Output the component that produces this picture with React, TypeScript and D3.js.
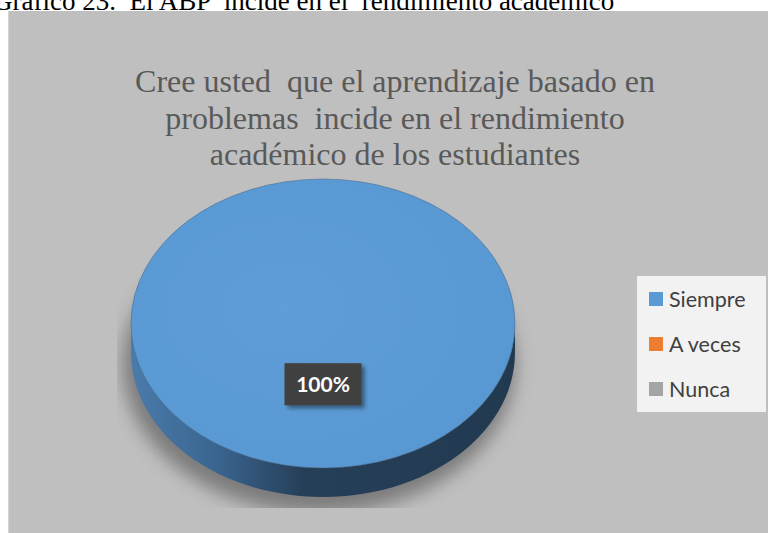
import React, { useEffect, useRef } from 'react';
import * as d3 from 'd3';

// data
const categories = ['Siempre', 'A veces', 'Nunca'];
const values = [100, 0, 0];
const colors = ['#5b9bd5', '#ed7d31', '#a5a5a5'];
const titleLines = [
  'Cree usted  que el aprendizaje basado en',
  'problemas  incide en el rendimiento',
  'académico de los estudiantes',
];
const caption = 'Gráfico 23.  El ABP  incide en el  rendimiento académico';

const W = 769;
const H = 533;
const SERIF = '"Liberation Serif", "Times New Roman", Times, serif';
const SANS = 'Lato, "Open Sans", sans-serif';

const App = () => {
  const svgRef = useRef<SVGSVGElement>(null);

  useEffect(() => {
    const svg = d3.select(svgRef.current);
    svg.selectAll('*').remove();

    const defs = svg.append('defs');

    // side gradient (dark edge of the 3d pie)
    const side = defs.append('linearGradient')
      .attr('id', 'side-grad')
      .attr('gradientUnits', 'userSpaceOnUse')
      .attr('x1', 131).attr('x2', 515).attr('y1', 0).attr('y2', 0);
    side.append('stop').attr('offset', '0%').attr('stop-color', '#4a7bab');
    side.append('stop').attr('offset', '22%').attr('stop-color', '#3a6590');
    side.append('stop').attr('offset', '45%').attr('stop-color', '#263f59');
    side.append('stop').attr('offset', '100%').attr('stop-color', '#223a50');

    const top = defs.append('radialGradient')
      .attr('id', 'top-grad')
      .attr('cx', '40%').attr('cy', '45%').attr('r', '70%');
    top.append('stop').attr('offset', '0%').attr('stop-color', '#5e9dd7');
    top.append('stop').attr('offset', '100%').attr('stop-color', '#5898d2');

    const blur = defs.append('filter').attr('id', 'shadow-blur')
      .attr('x', '-20%').attr('y', '-20%').attr('width', '140%').attr('height', '140%');
    blur.append('feGaussianBlur').attr('stdDeviation', 9);

    const lblShadow = defs.append('filter').attr('id', 'lbl-shadow')
      .attr('x', '-20%').attr('y', '-30%').attr('width', '150%').attr('height', '170%');
    lblShadow.append('feDropShadow')
      .attr('dx', 3).attr('dy', 3).attr('stdDeviation', 2)
      .attr('flood-color', '#000').attr('flood-opacity', 0.45);

    defs.append('clipPath').attr('id', 'shadow-clip')
      .append('rect').attr('x', 117).attr('y', 200).attr('width', 420).attr('height', 308);

    // caption above chart (cut at top)
    svg.append('text')
      .attr('x', -7).attr('y', 10)
      .style('font-family', SERIF)
      .style('white-space', 'pre')
      .attr('font-size', 27)
      .attr('fill', '#000')
      .text(caption);

    // chart area
    svg.append('rect')
      .attr('x', 8).attr('y', 11).attr('width', 760).attr('height', H - 11)
      .attr('fill', '#bfbfbf');
    svg.append('line')
      .attr('x1', 8.5).attr('x2', 8.5).attr('y1', 11).attr('y2', H)
      .attr('stroke', '#d4d4d4').attr('stroke-width', 1);

    // title
    svg.append('g')
      .selectAll('text')
      .data(titleLines)
      .join('text')
      .attr('x', 395)
      .attr('y', (d, i) => 92 + i * 36.5)
      .attr('text-anchor', 'middle')
      .style('font-family', SERIF)
      .style('white-space', 'pre')
      .attr('font-size', 32)
      .attr('fill', '#595959')
      .text(d => d);

    // pie geometry
    const cx = 323;
    const cy = 323.5;
    const rx = 192;
    const ry = 144.5;
    const depth = 29;
    const k = ry / rx;

    const pie = d3.pie<number>().sort(null).value(d => d);
    const arcs = pie(values);
    const arc = d3.arc<d3.PieArcDatum<number>>().innerRadius(0).outerRadius(rx);
    const labelArc = d3.arc<d3.PieArcDatum<number>>().innerRadius(rx * 0.42).outerRadius(rx * 0.42);

    // shadow
    svg.append('g')
      .attr('clip-path', 'url(#shadow-clip)')
      .append('ellipse')
      .attr('cx', cx - 4).attr('cy', cy + depth + 12)
      .attr('rx', rx + 4).attr('ry', ry + 4)
      .attr('fill', '#6a6a6a')
      .attr('opacity', 0.8)
      .attr('filter', 'url(#shadow-blur)');

    // sides: visible front half of each slice
    const pt = (a: number, dy: number) => [cx + rx * Math.sin(a), cy - ry * Math.cos(a) + dy];
    const sidePath = (a0: number, a1: number) => {
      const s = Math.max(a0, Math.PI / 2);
      const e = Math.min(a1, Math.PI * 1.5);
      if (e <= s) return null;
      const n = 60;
      const p = d3.path();
      for (let i = 0; i <= n; i++) {
        const [x, y] = pt(s + (e - s) * i / n, 0);
        if (i === 0) p.moveTo(x, y); else p.lineTo(x, y);
      }
      for (let i = n; i >= 0; i--) {
        const [x, y] = pt(s + (e - s) * i / n, depth);
        p.lineTo(x, y);
      }
      p.closePath();
      return p.toString();
    };

    const sideG = svg.append('g');
    arcs.forEach((a, i) => {
      if (a.value <= 0) return;
      const d = sidePath(a.startAngle, a.endAngle);
      if (!d) return;
      sideG.append('path')
        .attr('d', d)
        .attr('fill', i === 0 ? 'url(#side-grad)' : d3.color(colors[i])!.darker(1.2).toString());
    });

    // top faces
    svg.append('g')
      .attr('transform', `translate(${cx},${cy}) scale(1,${k})`)
      .selectAll('path')
      .data(arcs.filter(a => a.value > 0))
      .join('path')
      .attr('d', arc)
      .attr('fill', d => (d.index === 0 ? 'url(#top-grad)' : colors[d.index]))
      .attr('stroke', '#3f5f7f')
      .attr('stroke-opacity', 0.6)
      .attr('stroke-width', 0.8)
      .attr('vector-effect', 'non-scaling-stroke');

    // data labels
    const total = d3.sum(values);
    const lblG = svg.append('g');
    arcs.filter(a => a.value > 0).forEach(a => {
      const [lx, ly] = labelArc.centroid(a);
      const x = cx + lx;
      const y = cy + ly * k;
      const g = lblG.append('g').attr('transform', `translate(${x},${y})`);
      g.append('rect')
        .attr('x', -38.5).attr('y', -21).attr('width', 77).attr('height', 42)
        .attr('fill', '#404040')
        .attr('filter', 'url(#lbl-shadow)');
      g.append('text')
        .attr('text-anchor', 'middle')
        .attr('dy', '0.36em')
        .style('font-family', SANS)
        .attr('font-weight', 'bold')
        .attr('font-size', 21)
        .attr('fill', '#fff')
        .text(`${Math.round(a.value / total * 100)}%`);
    });

    // legend
    const legend = svg.append('g');
    legend.append('rect')
      .attr('x', 637).attr('y', 276).attr('width', 129).attr('height', 136)
      .attr('fill', '#f2f2f2');
    const item = legend.selectAll('g.item')
      .data(categories)
      .join('g')
      .attr('class', 'item')
      .attr('transform', (d, i) => `translate(649,${292 + i * 45})`);
    item.append('rect')
      .attr('width', 14).attr('height', 14)
      .attr('fill', (d, i) => colors[i]);
    item.append('text')
      .attr('x', 20).attr('y', 7)
      .attr('dy', '0.35em')
      .style('font-family', SANS)
      .attr('font-size', 21.5)
      .attr('fill', '#404040')
      .text(d => d);
  }, []);

  return (
    <svg
      ref={svgRef}
      width={W}
      height={H}
      viewBox={`0 0 ${W} ${H}`}
      style={{ position: 'absolute', left: 0, top: 0, background: '#fff' }}
    />
  );
};

export default App;
